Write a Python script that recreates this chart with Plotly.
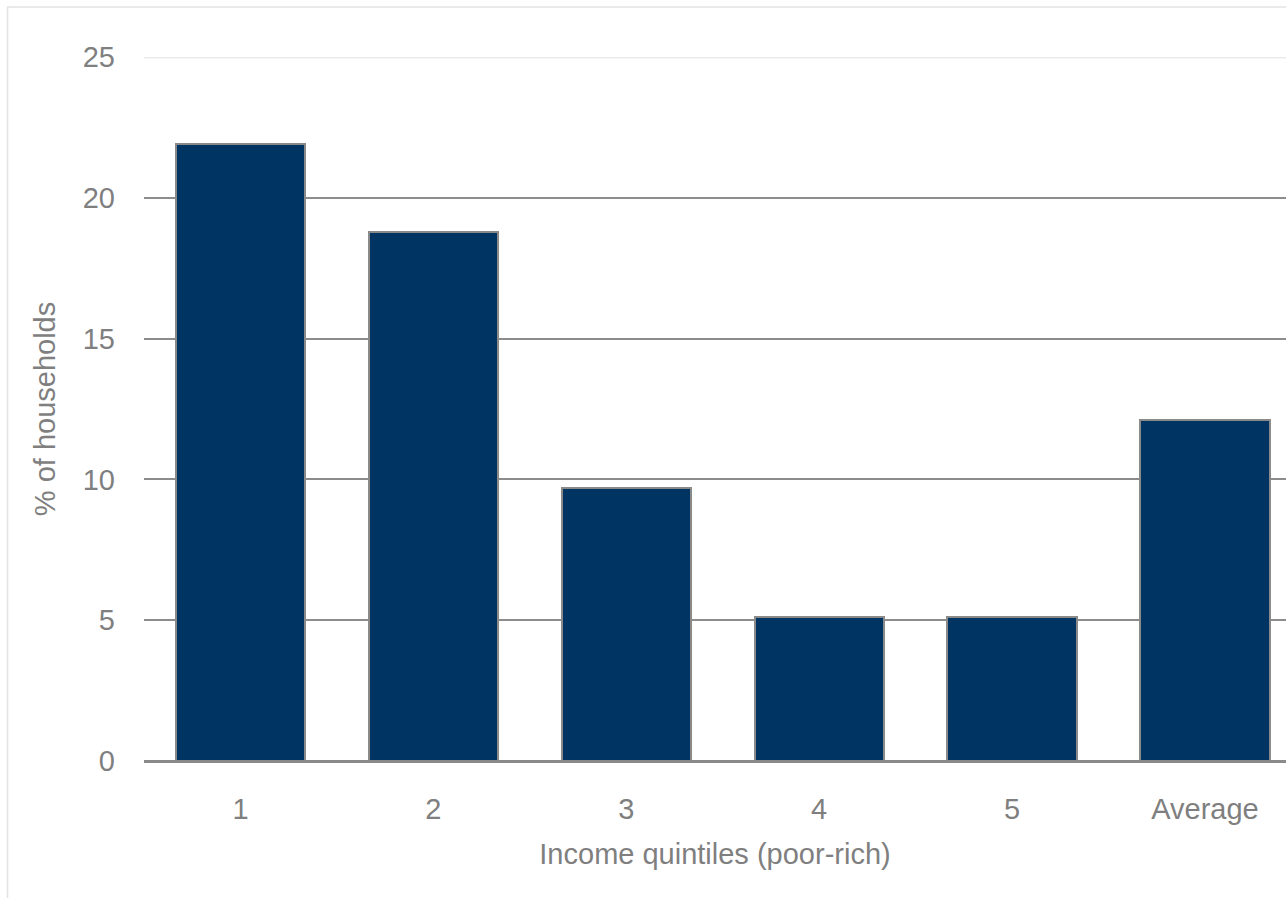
import plotly.graph_objects as go

categories = ["1", "2", "3", "4", "5", "Average"]
values = [21.9, 18.8, 9.7, 5.1, 5.1, 12.1]
y_ticks = [0, 5, 10, 15, 20, 25]

FONT = "Liberation Sans, Arial, sans-serif"
GREY_TXT = "#7f7f7f"
GRID = "#8c8c8c"

fig = go.Figure()
fig.add_trace(go.Bar(
    x=list(range(len(categories))),
    y=values,
    width=0.67,
    marker=dict(color="#003462", line=dict(color="#8a8a8a", width=2)),
))

# light top gridline at axis max
fig.add_shape(type="line", xref="paper", yref="y", x0=0, x1=1,
              y0=y_ticks[-1], y1=y_ticks[-1],
              line=dict(color="#ebebeb", width=3), layer="below")
# outer chart frame
fig.add_shape(type="rect", xref="paper", yref="paper",
              x0=-0.1195, x1=1.2, y0=-0.4, y1=1.071,
              line=dict(color="#e3e3e3", width=1.5), fillcolor="rgba(0,0,0,0)",
              layer="below")

fig.update_layout(
    width=1286, height=898,
    margin=dict(l=143.5, r=0, t=57, b=137),
    paper_bgcolor="white", plot_bgcolor="white",
    showlegend=False,
    font=dict(family=FONT, color=GREY_TXT),
    bargap=0,
)
fig.update_xaxes(
    range=[-0.5, 5.42],
    tickmode="array",
    tickvals=list(range(len(categories))),
    ticktext=categories,
    tickfont=dict(size=29, color=GREY_TXT, family=FONT),
    showgrid=False, zeroline=False, showline=False, ticks="",
    ticklabelstandoff=28,
    title=dict(text="Income quintiles (poor-rich)",
               font=dict(size=29, color=GREY_TXT, family=FONT), standoff=19),
)
fig.update_yaxes(
    range=[0, 25],
    tickmode="array",
    tickvals=y_ticks,
    ticktext=[str(v) for v in y_ticks],
    tickfont=dict(size=29, color=GREY_TXT, family=FONT),
    showgrid=True, gridcolor=GRID, gridwidth=2,
    zeroline=True, zerolinecolor="#8a8a8a", zerolinewidth=2.5,
    showline=False, ticks="",
    ticklabelstandoff=28,
    title=dict(text="% of households",
               font=dict(size=29, color=GREY_TXT, family=FONT), standoff=18),
)
fig.write_html("out.html")
